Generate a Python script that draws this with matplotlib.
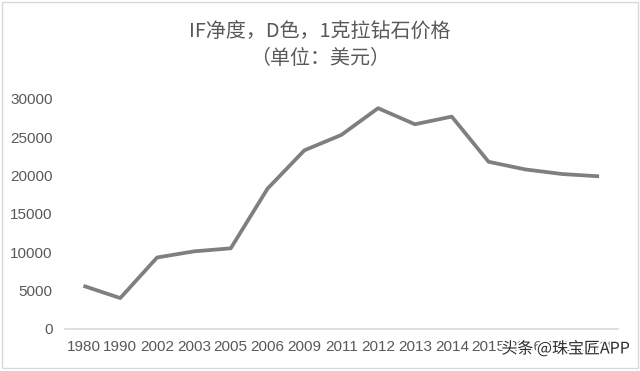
import matplotlib
matplotlib.use("Agg")
import matplotlib.pyplot as plt
import matplotlib.patheffects as pe
from matplotlib.patches import Rectangle

years = ["1980", "1990", "2002", "2003", "2005", "2006", "2009", "2011",
         "2012", "2013", "2014", "2015", "2016", "2017", "2018"]
prices = [5600, 4000, 9300, 10100, 10500, 18300, 23300, 25300,
          28800, 26700, 27700, 21800, 20800, 20200, 19900]
yticks = [0, 5000, 10000, 15000, 20000, 25000, 30000]
title1 = "IF净度，D色，1克拉钻石价格"
title2 = "（单位：美元）"
watermark = "头条 @珠宝匠APP"

cjk = ["Noto Sans CJK SC", "DejaVu Sans"]
num_font = ["Liberation Sans", "DejaVu Sans"]
txt_color = "#595959"

fig = plt.figure(figsize=(6.4, 3.71), dpi=100)
ax = fig.add_axes([65 / 640, (371 - 328.7) / 371, (617.5 - 65) / 640, (328.7 - 99) / 371])

x = list(range(len(years)))
ax.plot(x, prices, color="#7f7f7f", lw=2.7, solid_joinstyle="round", solid_capstyle="butt")

ax.set_xlim(-0.5, len(years) - 0.5)
ax.set_ylim(0, 30000)
ax.set_xticks(x)
ax.set_xticklabels(years)
ax.set_yticks(yticks)
ax.set_yticklabels([str(v) for v in yticks])

for lab in ax.get_xticklabels() + ax.get_yticklabels():
    lab.set_fontfamily(num_font)
    lab.set_fontsize(11)
    lab.set_color(txt_color)

ax.tick_params(axis="both", length=0)
ax.tick_params(axis="x", pad=8)
ax.tick_params(axis="y", pad=9)
for s in ["top", "right", "left"]:
    ax.spines[s].set_visible(False)
ax.spines["bottom"].set_color("#d9d9d9")
ax.spines["bottom"].set_linewidth(1.2)

fig.text(0.5, 1 - 31 / 371, title1, ha="center", va="center",
         fontsize=14.4, color=txt_color, family=cjk)
fig.text(0.5, 1 - 59 / 371, title2, ha="center", va="center",
         fontsize=14.4, color=txt_color, family=cjk)

# light border around the chart
fig.patches.append(Rectangle((2 / 640, 3 / 371), 635.5 / 640, 366 / 371,
                             transform=fig.transFigure, fill=False,
                             edgecolor="#d9d9d9", lw=1.0))

# watermark
fig.text(630 / 640, 1 - 349 / 371, watermark, ha="right", va="center",
         fontsize=11.5, color="#2b2b2b", family=cjk,
         path_effects=[pe.withStroke(linewidth=2.5, foreground="white")])

fig.savefig("out.png", dpi=100)
